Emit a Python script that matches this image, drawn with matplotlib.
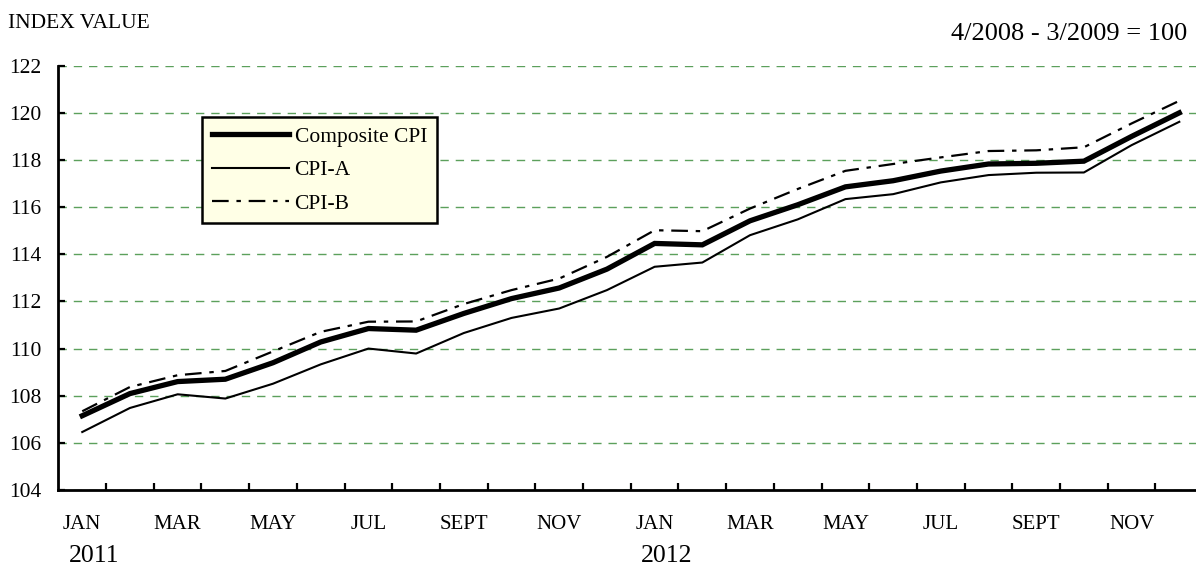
import matplotlib
matplotlib.use('Agg')
import matplotlib.pyplot as plt
import numpy as np

plt.rcParams['font.family'] = ['Liberation Serif', 'DejaVu Serif']

# monthly index values, Jan 2011 .. Dec 2012
months = ['JAN', 'FEB', 'MAR', 'APR', 'MAY', 'JUN', 'JUL', 'AUG', 'SEPT', 'OCT', 'NOV', 'DEC'] * 2
composite = [107.15, 108.09, 108.60, 108.70, 109.40, 110.28, 110.85, 110.78, 111.49, 112.12, 112.57, 113.37,
             114.46, 114.40, 115.42, 116.10, 116.86, 117.12, 117.53, 117.83, 117.86, 117.95, 119.00, 120.00]
cpi_a = [106.46, 107.48, 108.06, 107.88, 108.51, 109.33, 110.00, 109.79, 110.66, 111.30, 111.70, 112.48,
         113.47, 113.65, 114.81, 115.48, 116.34, 116.55, 117.05, 117.36, 117.46, 117.47, 118.63, 119.62]
cpi_b = [107.34, 108.37, 108.87, 109.05, 109.88, 110.71, 111.14, 111.15, 111.89, 112.48, 112.97, 113.89,
         115.02, 114.98, 115.94, 116.77, 117.54, 117.83, 118.11, 118.38, 118.41, 118.54, 119.55, 120.51]
years = ['2011', '2012']

W, H = 1196, 567
fig = plt.figure(figsize=(W / 100, H / 100), dpi=100)
ax = fig.add_axes([58.4 / W, 1 - 490 / H, 1 - 58.4 / W, (490 - 65.7) / H])

x = np.arange(len(months))
ax.plot(x, composite, color='black', lw=3.8, label='Composite CPI', solid_joinstyle='miter')
ax.plot(x, cpi_a, color='black', lw=1.5, label='CPI-A')
ax.plot(x, cpi_b, color='black', lw=1.6, dashes=(7.5, 3.5, 2, 3.5), label='CPI-B')

ax.set_ylim(104, 122)
ax.set_xlim(-0.5, 23.35)
ax.set_yticks(np.arange(104, 123, 2))
ax.grid(axis='y', color='#3f8f3f', lw=1.0, linestyle=(0, (6, 5)), alpha=0.85)
ax.set_axisbelow(True)

ax.set_xticks(x[:-1] + 0.5)
ax.set_xticklabels([])
ax.set_xticks(x[::2], minor=True)
ax.set_xticklabels(months[::2], minor=True)
ax.tick_params(axis='x', which='major', direction='in', length=5, width=1.6, color='black')
ax.tick_params(axis='x', which='minor', length=0, pad=18, labelsize=15)
ax.tick_params(axis='y', direction='in', length=5, width=1.6, pad=12, labelsize=15.5)

for s in ['top', 'right']:
    ax.spines[s].set_visible(False)
for s in ['left', 'bottom']:
    ax.spines[s].set_linewidth(2.0)

leg = ax.legend(loc='upper left', bbox_to_anchor=(202 / W, 1 - 117 / H), bbox_transform=fig.transFigure,
                fontsize=15.5, handlelength=3.6, handletextpad=0.25, borderpad=0.45, labelspacing=0.62,
                borderaxespad=0, fancybox=False, framealpha=1)
leg.get_frame().set_facecolor('#FFFFE6')
leg.get_frame().set_edgecolor('black')
leg.get_frame().set_linewidth(1.8)

fig.text(8 / W, 1 - 23 / H, 'INDEX VALUE', fontsize=15.5, va='center', ha='left')
fig.text(1187 / W, 1 - 34 / H, '4/2008 - 3/2009 = 100', fontsize=19, va='center', ha='right')
fig.text(94 / W, 1 - 556 / H, years[0], fontsize=18.5, va='center', ha='center')
fig.text(667 / W, 1 - 556 / H, years[1], fontsize=18.5, va='center', ha='center')

fig.savefig('out.png', dpi=100)
